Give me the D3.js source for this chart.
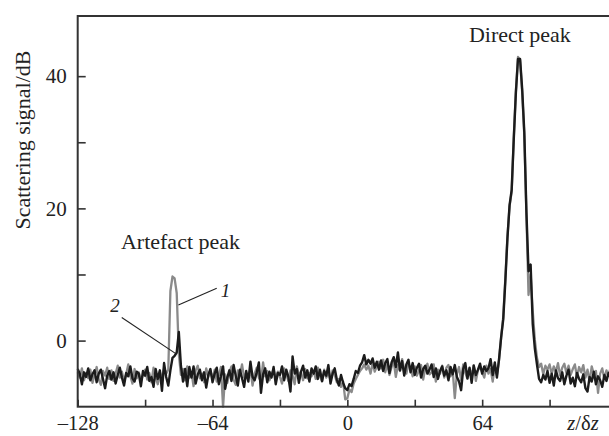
<!DOCTYPE html>
<html>
<head>
<meta charset="utf-8">
<script src="https://cdn.jsdelivr.net/npm/d3@7"></script>
<style>
  html, body { margin: 0; padding: 0; background: #fff; }
  svg { display: block; }
  text { font-family: "Liberation Serif", "Times New Roman", Times, serif; fill: #222; }
</style>
</head>
<body>
<svg id="chart" width="609" height="436"></svg>
<script>
// ---- data ----
const zStart = -128; // z/δz of first sample, step 1
// curve 2 (black)
const curve2 = [
  -4.3,-5.0,-6.6,-4.8,-5.5,-4.2,-6.0,-5.1,-4.5,-6.3,-5.0,-4.4,-5.8,-7.2,-5.3,-4.6,
  -5.9,-4.8,-6.5,-5.2,-4.1,-5.6,-6.8,-4.9,-5.4,-3.9,-5.7,-6.2,-4.7,-5.0,-6.9,-4.6,
  -5.3,-4.0,-6.1,-5.5,-7.0,-4.3,-5.8,-4.5,-7.6,-3.4,-5.5,-6.8,-4.5,-2.6,-2.3,-1.8,
  1.3,-3.8,-6.2,-4.3,-6.9,-4.0,-5.6,-3.9,-6.5,-5.1,-4.4,-6.0,-4.8,-7.1,-5.2,-4.3,
  -6.3,-5.0,-4.1,-6.6,-5.4,-3.9,-7.3,-5.6,-4.5,-6.1,-3.7,-5.3,-6.8,-4.4,-5.7,-7.0,
  -4.6,-6.2,-3.2,-5.5,-6.0,-4.8,-3.3,-7.9,-5.1,-4.2,-6.3,-4.7,-5.6,-4.0,-6.6,-4.9,
  -5.2,-3.9,-6.0,-4.4,-5.5,-7.7,-2.4,-5.0,-4.3,-6.4,-4.7,-3.8,-5.6,-4.5,-6.2,-4.2,
  -5.0,-3.9,-5.8,-4.4,-6.1,-4.6,-5.3,-3.7,-6.5,-5.0,-4.2,-5.9,-6.8,-5.2,-6.4,-7.2,
  -7.5,-6.6,-6.9,-5.8,-4.6,-4.9,-3.8,-3.3,-2.2,-3.6,-2.9,-3.5,-2.7,-4.1,-3.2,-4.4,
  -3.0,-4.6,-3.4,-2.8,-4.9,-3.3,-2.5,-4.0,-1.8,-4.5,-3.1,-5.3,-3.6,-2.9,-4.8,-3.4,
  -5.2,-4.1,-3.5,-5.6,-4.3,-3.8,-5.0,-4.4,-3.6,-5.5,-4.2,-5.8,-4.6,-3.9,-5.3,-4.5,
  -6.0,-4.0,-5.1,-3.7,-5.5,-6.2,-7.5,-4.3,-3.4,-5.7,-4.1,-6.4,-3.8,-5.2,-4.4,-3.5,
  -5.0,-3.9,-4.6,-4.2,-2.8,-5.2,-3.3,-5.6,-2.8,0.5,3.2,9.0,15.5,20.5,22.8,30.5,
  37.5,42.6,42.6,38.0,31.5,19.5,10.5,11.5,2.5,-1.2,-3.6,-5.8,-6.3,-5.2,-5.9,-4.6,
  -6.4,-5.0,-6.8,-4.5,-5.7,-6.1,-4.8,-6.6,-5.3,-4.4,-6.5,-5.6,-6.9,-4.9,-5.8,-6.3,
  -5.1,-7.2,-7.7,-5.5,-6.2,-4.7,-6.6,-5.4,-6.0,-7.0,-5.2,-6.1,-4.9,-5.7,-6.0,-5.5
];
// curve 1 (grey)
const curve1 = [
  -4.8,-5.6,-4.2,-6.0,-4.9,-5.7,-4.4,-6.4,-5.2,-4.0,-5.9,-6.7,-4.6,-5.3,-4.1,-5.8,
  -4.5,-6.1,-5.0,-3.8,-5.6,-4.7,-6.2,-5.1,-3.6,-5.4,-6.5,-4.3,-5.7,-4.8,-6.0,-5.2,
  -4.4,-5.9,-4.9,-6.3,-4.1,-5.5,-6.6,-4.7,-5.8,-4.2,-5.0,-4.4,7.5,9.7,9.4,7.2,
  -2.0,-5.2,-4.3,-6.0,-3.9,-5.6,-4.8,-6.9,-4.5,-3.8,-5.7,-5.0,-6.3,-4.2,-5.5,-4.6,
  -5.8,-4.4,-6.2,-5.3,-4.0,-10.0,-5.1,-6.4,-4.8,-3.9,-5.9,-6.7,-4.5,-5.2,-3.6,-5.6,
  -4.9,-5.7,-4.3,-6.8,-5.0,-4.1,-5.6,-6.2,-3.3,-5.4,-4.6,-6.0,-5.1,-4.4,-5.8,-4.7,
  -5.5,-6.5,-4.2,-5.0,-6.1,-4.5,-5.3,-6.6,-3.9,-5.2,-4.8,-6.0,-4.3,-5.7,-4.9,-5.4,
  -4.6,-5.8,-4.1,-5.3,-6.2,-4.4,-5.6,-4.8,-6.0,-4.5,-5.2,-6.3,-5.8,-7.0,-6.2,-8.9,
  -8.7,-7.4,-7.8,-6.5,-5.8,-5.2,-4.6,-4.2,-3.6,-4.4,-3.8,-5.0,-3.4,-4.7,-3.9,-3.2,
  -4.2,-2.9,-4.8,-3.6,-5.2,-4.0,-3.1,-5.5,-3.7,-4.6,-2.8,-4.3,-5.0,-3.5,-4.1,-5.4,
  -3.9,-5.3,-4.5,-3.7,-5.9,-4.2,-3.5,-5.1,-4.8,-3.6,-6.2,-4.4,-5.0,-3.8,-5.6,-4.1,
  -3.7,-5.4,-4.5,-8.7,-5.0,-4.0,-6.0,-3.6,-4.9,-5.8,-4.2,-5.3,-3.7,-6.1,-4.5,-3.9,
  -4.8,-5.6,-3.8,-5.0,-4.3,-6.2,-3.9,-5.2,-3.0,0.5,3.6,9.5,15.8,20.3,22.5,30.8,
  37.8,42.9,42.4,37.5,31.0,19.0,6.9,10.0,4.5,0.1,-2.6,-4.0,-3.5,-5.1,-3.8,-4.4,
  -3.6,-5.0,-3.9,-4.7,-3.4,-5.3,-4.1,-3.5,-4.9,-3.8,-5.2,-4.3,-3.6,-5.5,-4.0,-4.8,
  -3.7,-5.6,-4.4,-6.2,-3.9,-5.1,-4.6,-7.9,-5.0,-4.2,-5.8,-4.5,-5.3,-4.0,-4.7,-5.2
];
const xTicks = [-128, -96, -64, -32, 0, 32, 64, 96, 128];
const xTickLabels = {"-128": "\u2013128", "-64": "\u201364", "0": "0", "64": "64"};
const yTicks = [0, 10, 20, 30, 40];
const yTickLabels = {"0": "0", "20": "20", "40": "40"};
const xDomain = [-128, 128];
const yDomain = [-10, 49.1];

// ---- layout ----
const svg = d3.select("#chart");
const mLeft = 77.7, mRight = 617, mTop = 16, mBottom = 406.7;
const x = d3.scaleLinear().domain(xDomain).range([mLeft, mRight]);
const y = d3.scaleLinear().domain(yDomain).range([mBottom, mTop]);
const axisColor = "#333";

const toPts = arr => arr.map((v, i) => [zStart + i, v]);
const line = d3.line().x(d => x(d[0])).y(d => y(d[1]));

// curves
svg.append("path").datum(toPts(curve1))
  .attr("d", line).attr("fill", "none").attr("stroke", "#8a8a8a")
  .attr("stroke-width", 2.3).attr("stroke-linejoin", "round");
svg.append("path").datum(toPts(curve2))
  .attr("d", line).attr("fill", "none").attr("stroke", "#1b1b1b")
  .attr("stroke-width", 2.4).attr("stroke-linejoin", "round");

// axes
const gx = svg.append("g").attr("transform", `translate(0,${mBottom})`)
  .call(d3.axisBottom(x).tickValues(xTicks).tickSize(-7).tickSizeOuter(0).tickPadding(9)
    .tickFormat(d => xTickLabels[String(d)] || ""));
const gy = svg.append("g").attr("transform", `translate(${mLeft},0)`)
  .call(d3.axisLeft(y).tickValues(yTicks).tickSize(-8).tickSizeOuter(0).tickPadding(11)
    .tickFormat(d => yTickLabels[String(d)] || ""));
[gx, gy].forEach(g => {
  g.select(".domain").remove();
  g.selectAll(".tick line").attr("stroke", axisColor).attr("stroke-width", 1.6);
  g.selectAll(".tick text").style("font-family", '"Liberation Serif", "Times New Roman", serif')
    .style("font-size", "21px").attr("fill", "#222");
});
gx.selectAll(".tick text").style("font-size", "20.5px");

// frame
svg.append("rect").attr("x", mLeft).attr("y", mTop)
  .attr("width", mRight - mLeft).attr("height", mBottom - mTop)
  .attr("fill", "none").attr("stroke", axisColor).attr("stroke-width", 2);

// axis titles
svg.append("text")
  .attr("transform", `translate(30,140) rotate(-90)`)
  .attr("text-anchor", "middle").style("font-size", "22px")
  .text("Scattering signal/dB");
const xt = svg.append("text").attr("x", 583).attr("y", 430)
  .attr("text-anchor", "middle").style("font-size", "20.5px");
xt.append("tspan").style("font-style", "italic").text("z");
xt.append("tspan").text("/\u03b4");
xt.append("tspan").style("font-style", "italic").text("z");

// annotations (data coordinates)
svg.append("text").attr("x", x(81.9)).attr("y", y(45.2))
  .attr("text-anchor", "middle").style("font-size", "22px").text("Direct peak");
svg.append("text").attr("x", x(-79.2)).attr("y", y(13.8))
  .attr("text-anchor", "middle").style("font-size", "22px").text("Artefact peak");
svg.append("line").attr("x1", x(-62.0)).attr("y1", y(7.9)).attr("x2", x(-80.2)).attr("y2", y(5.4))
  .attr("stroke", "#222").attr("stroke-width", 1.1);
svg.append("line").attr("x1", x(-107.1)).attr("y1", y(3.5)).attr("x2", x(-81.8)).attr("y2", y(-1.9))
  .attr("stroke", "#222").attr("stroke-width", 1.1);
svg.append("text").attr("x", x(-57.8)).attr("y", y(6.6))
  .attr("text-anchor", "middle").style("font-size", "19px").style("font-style", "italic").text("1");
svg.append("text").attr("x", x(-110.3)).attr("y", y(4.3))
  .attr("text-anchor", "middle").style("font-size", "19px").style("font-style", "italic").text("2");
</script>
</body>
</html>
